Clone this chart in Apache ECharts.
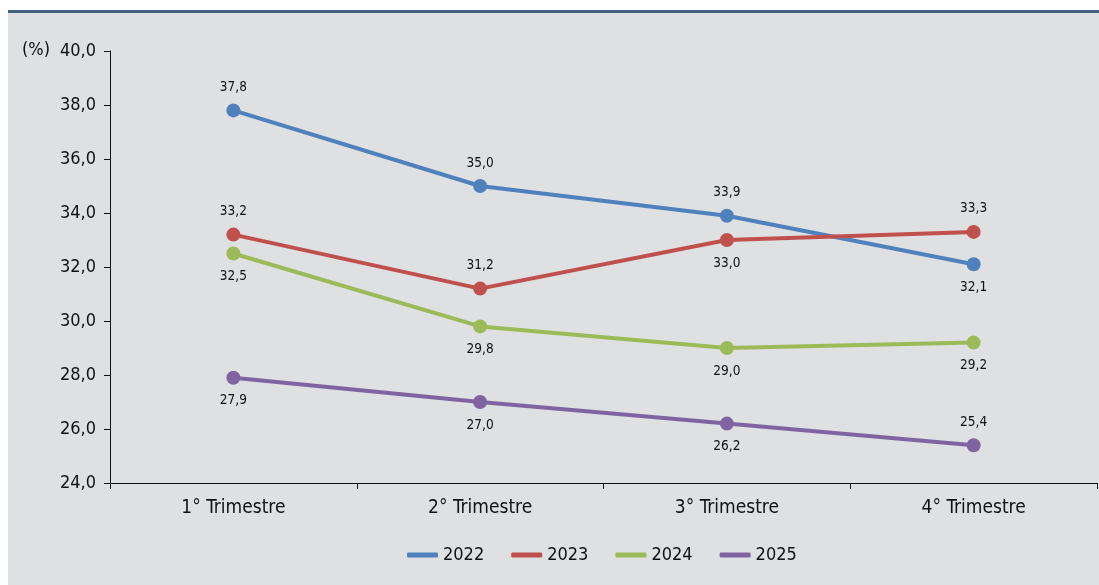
<!DOCTYPE html>
<html>
<head>
<meta charset="utf-8">
<script src="https://cdn.jsdelivr.net/npm/echarts@6/dist/echarts.min.js"></script>
<style>html,body{margin:0;padding:0;background:#fff;}#c{width:1099px;height:585px;}</style>
</head>
<body>
<div id="c"></div>
<script>
const categories = ['1° Trimestre', '2° Trimestre', '3° Trimestre', '4° Trimestre'];
const years = ['2022', '2023', '2024', '2025'];
const s2022 = [37.8, 35.0, 33.9, 32.1];
const s2023 = [33.2, 31.2, 33.0, 33.3];
const s2024 = [32.5, 29.8, 29.0, 29.2];
const s2025 = [27.9, 27.0, 26.2, 25.4];
const labelPos2022 = ['top', 'top', 'top', 'bottom'];
const labelPos2023 = ['top', 'top', 'bottom', 'top'];
const labelPos2024 = ['bottom', 'bottom', 'bottom', 'bottom'];
const labelPos2025 = ['bottom', 'bottom', 'bottom', 'top'];
const colors = ['#4f81bd', '#c0504d', '#9bbb59', '#8064a2'];

const FONT = '"Liberation Sans Narrow", "DejaVu Sans Condensed", sans-serif';
const fmt = v => v.toFixed(1).replace('.', ',');

function mk(name, vals, pos, color) {
  return {
    name: name, type: 'line', data: vals.map((v, i) => ({
      value: v,
      label: { position: pos[i] }
    })),
    symbol: 'circle', symbolSize: 14,
    lineStyle: { width: 4, color: color },
    itemStyle: { color: color },
    label: {
      show: true, distance: 9, fontSize: 13.5, color: '#111', fontFamily: FONT,
      formatter: p => fmt(p.value)
    },
    emphasis: { disabled: true },
    animation: false
  };
}

const chart = echarts.init(document.getElementById('c'));
chart.setOption({
  animation: false,
  color: colors,
  graphic: [
    { type: 'rect', shape: { x: 8, y: 12, width: 1091, height: 573 }, style: { fill: '#dfe0e2' }, z: -10 },
    { type: 'rect', shape: { x: 8, y: 10, width: 1091, height: 3 }, style: { fill: '#41607f' }, z: -9 },
    { type: 'text', left: 22, top: 41, style: { text: '(%)', fontSize: 18, fontFamily: FONT, fill: '#111' } }
  ],
  grid: { left: 110, right: 2, top: 51, bottom: 102, containLabel: false },
  legend: {
    bottom: 16, left: 402, itemWidth: 31, itemHeight: 5, icon: 'roundRect', itemGap: 27,
    textStyle: { fontSize: 18, fontFamily: FONT, color: '#111' },
    data: years
  },
  xAxis: {
    type: 'category', data: categories, boundaryGap: true,
    axisLine: { lineStyle: { color: '#111', width: 1 } },
    axisTick: { show: true, length: 6, lineStyle: { color: '#111' } },
    axisLabel: { fontSize: 19, fontFamily: FONT, color: '#111', margin: 16 },
    splitLine: { show: false }
  },
  yAxis: {
    type: 'value', min: 24, max: 40, interval: 2,
    axisLine: { show: true, lineStyle: { color: '#111', width: 1 } },
    axisTick: { show: true, length: 6, lineStyle: { color: '#111' } },
    axisLabel: { fontSize: 18, fontFamily: FONT, color: '#111', margin: 14, formatter: v => fmt(v) },
    splitLine: { show: false }
  },
  series: [
    mk(years[0], s2022, labelPos2022, colors[0]),
    mk(years[1], s2023, labelPos2023, colors[1]),
    mk(years[2], s2024, labelPos2024, colors[2]),
    mk(years[3], s2025, labelPos2025, colors[3])
  ]
});
</script>
</body>
</html>
